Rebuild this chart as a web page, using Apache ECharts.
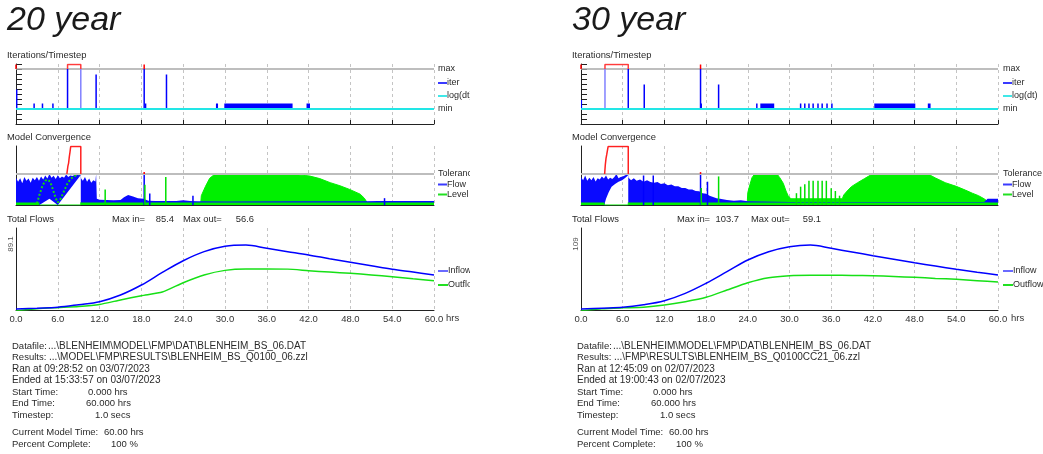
<!DOCTYPE html>
<html><head><meta charset="utf-8">
<script src="https://cdn.jsdelivr.net/npm/echarts@6/dist/echarts.min.js"></script>
<style>
html,body{margin:0;padding:0;background:#fff;width:1043px;height:454px;overflow:hidden}
#left{position:absolute;left:0;top:0;width:470px;height:454px}
#right{position:absolute;left:565px;top:0;width:478px;height:454px}
</style></head><body>
<div id="left"></div><div id="right"></div>
<script>
const FONT = '"Liberation Sans", Arial, sans-serif';

// ---------------- Total flows (hours / values) ----------------
const HOURS = [0,3,6,9,12,15,18,21,24,27,30,33,36,39,42,45,48,51,54,57,60];
const inflow20  = [8.6,9.5,10.7,13.8,17.4,25.4,37.4,52.5,66.6,77.5,84.0,85.4,81.5,77.5,73.5,69.0,64.7,60.5,56.3,53.0,49.5];
const outflow20 = [6.6,8.8,10.2,11.5,14.0,19.5,24.6,29.0,40.2,49.5,55.0,56.6,56.6,56.5,54.6,53.0,51.5,49.5,47.4,45.0,42.6];
const inflow30  = [9.6,10.8,12.0,15.8,21.8,32.6,47.4,64.4,81.6,93.8,101.2,103.7,98.8,93.4,88.0,82.8,77.6,72.7,67.9,63.6,59.6];
const outflow30 = [7.1,10.0,11.3,12.3,15.4,20.3,26.8,37.5,48.2,55.6,58.5,59.1,59.1,59.0,58.5,57.3,56.1,54.6,53.2,51.3,49.3];
const flowAxis20 = [7.4, 105.9];
const flowAxis30 = [8.1, 128.7];
const maxIn20 = '85.4', maxOut20 = '56.6', axisTop20 = '89.1';
const maxIn30 = '103.7', maxOut30 = '59.1', axisTop30 = '109';

// ---------------- Iterations / timestep ----------------
const ITER_MIN = 0, ITER_MAX = 8, ITER_OFF = 8.9;
const iterBars20 = [[0.1,3.9],[2.6,1.1],[3.8,1.1],[5.3,1.1],[7.4,8],[11.5,6.9],[18.4,8],[18.6,1.1],[21.6,6.9]];
const iterBarsLight20 = [[9.3,8]];
const iterBlocks20 = [[28.7,29.0,1.1],[29.9,39.7,1.1],[41.7,42.2,1.1]];
const overMaxBox20 = [7.4, 9.3];
const overMaxTicks20 = [0, 18.4];

const iterBars30 = [[0.05,1.8],[6.8,8],[9.1,4.9],[17.2,8],[17.3,1.1],[19.8,4.9],[25.3,1.1],[31.6,1.1],[32.2,1.1],[32.8,1.1],[33.4,1.1],[34.1,1.1],[34.7,1.1],[35.4,1.1],[36.1,1.1]];
const iterBarsLight30 = [[3.45,8]];
const iterBlocks30 = [[25.8,27.8,1.1],[42.2,48.1,1.1],[49.9,50.3,1.1]];
const overMaxBox30 = [3.45, 6.8];
const overMaxTicks30 = [0, 17.2];

// ---------------- Model convergence (1 = tolerance) ----------------
const TOL = 1, CONV_TOP = 1.9;
const flowTop20 = [[0,0.88],[0.3,0.75],[0.6,0.86],[0.9,0.7],[1.2,0.9],[1.5,0.78],[1.8,0.85],[2.1,0.72],[2.4,0.88],[2.7,0.8],[3.0,0.9],[3.3,0.78],[3.6,0.92],[3.9,0.82],[4.2,0.95],[4.5,0.85],[4.8,1.0],[5.1,0.88],[5.4,0.94],[5.7,0.84],[6.0,0.96],[6.3,0.86],[6.6,0.92],[6.9,0.88],[7.2,0.98],[7.5,0.9],[7.8,0.95],[8.1,0.93],[8.4,0.97],[8.7,0.96],[9.0,0.99],[9.3,1.0],[9.35,0.85],[9.6,0.78],[9.9,0.9],[10.2,0.75],[10.5,0.85],[10.8,0.72],[11.1,0.8],[11.4,0.76],[11.5,1.0],[11.6,0.2],[12,0.17],[13,0.16],[14,0.15],[15,0.16],[15.5,0.25],[16.1,0.32],[16.8,0.27],[17.5,0.22],[18.3,0.2],[19,0.14],[20,0.13],[23,0.13],[24,0.15],[25,0.13],[26,0.12],[30,0.11],[40,0.12],[50,0.12],[52,0.13],[60,0.13]];
const flowLow20 = [[0,0.08],[3.35,0.08],[3.35,0.0],[4.8,0.2],[6.0,0.0],[9.3,0.97],[9.3,0.08],[60,0.08]];
const levelBase20 = [[0,0.08],[3.35,0.08],[3.35,0],[9.3,0],[9.3,0.08],[60,0.08]];
const levelArea20 = [[26.5,0],[26.6,0.3],[27.2,0.6],[27.8,0.86],[28.3,0.95],[28.8,1.0],[39.3,1.0],[39.4,0.96],[40.5,0.97],[41.5,0.95],[42.2,0.93],[43.6,0.85],[45.1,0.72],[46.5,0.62],[47.9,0.5],[49.4,0.35],[50.0,0.22],[50.4,0.08],[50.6,0]];
const levelWave20 = [[3.0,0.05],[3.4,0.35],[3.8,0.62],[4.2,0.78],[4.5,0.82],[4.9,0.75],[5.3,0.5],[5.7,0.22],[6.0,0.08],[6.4,0.2],[6.9,0.45],[7.4,0.7],[7.9,0.85],[8.4,0.93],[8.9,0.98],[9.3,1.0]];
const levelSpikes20 = [[12.8,0.5],[18.5,0.65],[21.5,0.9]];
const flowSpikes20 = [[18.4,1.0],[19.2,0.37],[25.4,0.3],[52.9,0.22]];
const overTol20 = [[7.3,1.0],[7.45,1.25],[7.55,1.35],[7.65,1.55],[7.75,1.7],[7.85,1.88],[9.3,1.88],[9.3,1.0]];
const overTolMarks20 = [18.4];

const flowTop30 = [[0,0.9],[0.3,0.8],[0.6,0.95],[0.9,0.78],[1.2,0.88],[1.5,0.8],[1.8,0.9],[2.1,0.76],[2.4,0.86],[2.7,0.82],[3.0,0.92],[3.3,0.85],[3.6,0.95],[3.9,0.82],[4.2,0.88],[4.5,0.84],[4.8,0.9],[5.1,1.0],[5.4,0.86],[5.7,0.9],[6.0,0.92],[6.3,0.95],[6.6,0.98],[6.8,1.0],[6.85,0.88],[7.2,0.8],[7.6,0.86],[8.0,0.78],[8.5,0.82],[9.0,0.75],[9.5,0.8],[10.0,0.74],[10.5,0.72],[11,0.74],[11.5,0.68],[12,0.7],[12.5,0.64],[13,0.66],[13.5,0.6],[14,0.6],[14.5,0.55],[15,0.55],[15.5,0.5],[16,0.5],[16.5,0.45],[17,0.44],[17.5,0.38],[18,0.36],[18.5,0.3],[19,0.26],[19.5,0.22],[20,0.2],[21,0.16],[22,0.14],[23,0.15],[24,0.12],[30,0.1],[40,0.1],[50,0.1],[58,0.1],[58.5,0.2],[60,0.2]];
const flowLow30 = [[0,0.08],[3.35,0.08],[3.35,0],[3.6,0.2],[4.0,0.42],[4.4,0.59],[4.9,0.68],[5.4,0.75],[5.9,0.8],[6.3,0.86],[6.6,0.92],[6.8,0.97],[6.8,0.08],[60,0.08]];
const levelBase30 = [[0,0.08],[3.35,0.08],[3.35,0],[6.8,0],[6.8,0.08],[60,0.08]];
const levelArea30 = [[23.9,0],[24.0,0.4],[24.3,0.65],[24.6,0.88],[25.0,1.0],[28.2,1.0],[28.6,0.88],[29.1,0.7],[29.5,0.45],[29.8,0.3],[30.2,0.2],[37.6,0.2],[37.8,0.32],[38.3,0.45],[38.9,0.59],[39.8,0.72],[40.8,0.85],[41.4,0.93],[42,1.0],[49.9,1.0],[51,0.87],[52.4,0.72],[54,0.6],[55.3,0.48],[56.3,0.38],[57.2,0.3],[58,0.2],[58.6,0.1],[59,0]];
const levelWave30 = [];
const levelSpikes30 = [[17.3,0.55],[19.8,0.92],[31.0,0.38],[31.6,0.59],[32.2,0.67],[32.8,0.78],[33.4,0.78],[34.1,0.78],[34.7,0.78],[35.3,0.78],[36.0,0.54],[36.6,0.45],[37.2,0.3]];
const flowSpikes30 = [[9.0,0.95],[10.4,0.95],[17.2,1.0],[18.2,0.75]];
const overTol30 = [[3.4,1.0],[3.5,1.3],[3.6,1.5],[3.7,1.62],[3.8,1.75],[3.9,1.88],[6.8,1.88],[6.8,1.0]];
const overTolMarks30 = [17.2];

// ---------------- Run info text ----------------
const info20 = {
  title: '20 year',
  datafile: '...\\BLENHEIM\\MODEL\\FMP\\DAT\\BLENHEIM_BS_06.DAT',
  results: '...\\MODEL\\FMP\\RESULTS\\BLENHEIM_BS_Q0100_06.zzl',
  ran: 'Ran at 09:28:52 on 03/07/2023',
  ended: 'Ended at 15:33:57 on 03/07/2023'
};
const info30 = {
  title: '30 year',
  datafile: '...\\BLENHEIM\\MODEL\\FMP\\DAT\\BLENHEIM_BS_06.DAT',
  results: '...\\FMP\\RESULTS\\BLENHEIM_BS_Q0100CC21_06.zzl',
  ran: 'Ran at 12:45:09 on 02/07/2023',
  ended: 'Ended at 19:00:43 on 02/07/2023'
};
const runRows = [['Start Time:', '0.000 hrs'], ['End Time:', '60.000 hrs'], ['Timestep:', '1.0 secs']];
const statusRows = [['Current Model Time:', '60.00 hrs'], ['Percent Complete:', '100 %']];

// ---------------- builders ----------------
function txt(x, y, s, opt) {
  opt = opt || {};
  return {type:'text', x:x, y:y, rotation: opt.rot || 0, silent:true, z:100,
    style:{text:s, font: opt.font || ('9px ' + FONT), fill: opt.fill || '#2a2a2a',
      textAlign: opt.align || 'left', align: opt.align || 'left',
      textVerticalAlign:'middle', verticalAlign:'middle'}};
}
function seg(x1, y1, x2, y2, color, w) {
  return {type:'line', silent:true, z:100, shape:{x1:x1,y1:y1,x2:x2,y2:y2}, style:{stroke:color, lineWidth:w||2}};
}
function vbars(ax, data, color, w, base, z) {
  return {type:'custom', xAxisIndex:ax, yAxisIndex:ax, z:z, silent:true, clip:true, data:data,
    renderItem:function(p, api){
      const t = api.value(0), v = api.value(1);
      const a = api.coord([t, v]), b = api.coord([t, base]);
      return {type:'rect', shape:{x:a[0]-w/2, y:Math.min(a[1],b[1]), width:w, height:Math.abs(b[1]-a[1])}, style:{fill:color}};
    }};
}
function vticks(ax, ts, from, to, color, w, z) {
  return {type:'custom', xAxisIndex:ax, yAxisIndex:ax, z:z, silent:true, data:ts.map(t=>[t, to]),
    renderItem:function(p, api){
      const t = api.value(0);
      const a = api.coord([t, from]), b = api.coord([t, to]);
      return {type:'line', shape:{x1:a[0],y1:a[1],x2:b[0],y2:b[1]}, style:{stroke:color, lineWidth:w}};
    }};
}
function blocks(ax, data, color, z) {
  return {type:'custom', xAxisIndex:ax, yAxisIndex:ax, z:z, silent:true, data:data,
    renderItem:function(p, api){
      const a = api.coord([api.value(0), api.value(2)]), b = api.coord([api.value(1), ITER_MIN]);
      return {type:'rect', shape:{x:a[0], y:a[1], width:b[0]-a[0], height:b[1]-a[1]}, style:{fill:color}};
    }};
}
function band(ax, upper, lower, color, z) {
  return {type:'custom', xAxisIndex:ax, yAxisIndex:ax, z:z, silent:true, clip:true, data:[[0,0]],
    renderItem:function(p, api){
      const pts = upper.map(q=>api.coord(q)).concat(lower.slice().reverse().map(q=>api.coord(q)));
      return {type:'polygon', shape:{points:pts}, style:{fill:color}};
    }};
}
function line(ax, data, color, w, opt) {
  opt = opt || {};
  const s = {type:'line', xAxisIndex:ax, yAxisIndex:ax, data:data, showSymbol:false, symbol:'none', silent:true,
    z: opt.z || 2, smooth: opt.smooth || false, clip:true,
    lineStyle:{color:color, width:w, type: opt.type || 'solid'}};
  if (opt.area) s.areaStyle = {color: opt.area, opacity:1};
  return s;
}
function zipHours(vals) { return HOURS.map((h,i)=>[h, vals[i]]); }

function buildOption(P) {
  const gw = P.gw;
  const split = {show:true, lineStyle:{type:[3,3], color:'#c4c4c4', width:1}};
  const grid = [
    {left:16, top:64, width:gw, height:60},
    {left:16, top:146, width:gw, height:59},
    {left:16, top:228, width:gw, height:82}
  ];
  const xAxis = [0,1,2].map(i=>({
    type:'value', gridIndex:i, min:0, max:60, interval:6,
    axisLine:{show:true, onZero:false, lineStyle:{color:'#222', width:1}},
    axisTick:{show:i===0, inside:true, length:4, lineStyle:{color:'#222'}},
    axisLabel:{show:i===2, fontSize:9.5, color:'#333', fontFamily:FONT, margin:4,
      formatter:function(v){return v.toFixed(1);}},
    splitLine:split
  }));
  const yAxis = [
    {type:'value', gridIndex:0, min:-3, max:9, interval:1,
      axisLine:{show:true, onZero:false, lineStyle:{color:'#222'}},
      axisTick:{show:true, inside:true, length:6, lineStyle:{color:'#222'}},
      axisLabel:{show:false}, splitLine:{show:false}},
    {type:'value', gridIndex:1, min:0, max:CONV_TOP,
      axisLine:{show:true, onZero:false, lineStyle:{color:'#222'}},
      axisTick:{show:false}, axisLabel:{show:false}, splitLine:{show:false}},
    {type:'value', gridIndex:2, min:P.flowAxis[0], max:P.flowAxis[1],
      axisLine:{show:true, onZero:false, lineStyle:{color:'#222'}},
      axisTick:{show:false}, axisLabel:{show:false}, splitLine:{show:false}}
  ];
  const series = [
    // iterations
    line(0, [[0,ITER_MAX],[60,ITER_MAX]], '#a9a9a9', 1.5, {z:1}),
    vbars(0, P.iterBars, '#0000ff', 1.5, ITER_MIN, 3),
    vbars(0, P.iterBarsLight, '#8080ff', 1.5, ITER_MIN, 3),
    blocks(0, P.iterBlocks, '#0000ff', 3),
    line(0, [[0,ITER_MIN],[60,ITER_MIN]], '#22e6e6', 2, {z:4}),
    line(0, [[P.overMaxBox[0],ITER_MAX],[P.overMaxBox[0],ITER_OFF],[P.overMaxBox[1],ITER_OFF],[P.overMaxBox[1],ITER_MAX]], '#ff3b3b', 1.5, {z:5}),
    vticks(0, P.overMaxTicks, ITER_MAX, ITER_OFF, '#ff0000', 1.5, 5),
    // convergence
    line(1, P.levelBase, '#00e800', 1, {area:'#00ee00', z:1}),
    line(1, P.levelArea, '#00f000', 1, {area:'#00f000', z:2}),
    band(1, P.flowTop, P.flowLow, '#0a0aff', 3),
    vbars(1, P.flowSpikes, '#0000ff', 1.5, 0, 4),
    line(1, P.levelWave, '#12d812', 2, {type:[2,2], z:5}),
    vbars(1, P.levelSpikes, '#00e000', 1.5, 0, 5),
    line(1, [[0,TOL],[60,TOL]], '#bdbdbd', 2, {z:6}),
    line(1, P.overTol, '#ff2020', 1.5, {z:7}),
    vticks(1, P.overTolMarks, TOL, TOL + 0.06, '#ff0000', 1.5, 7),
    // total flows
    line(2, zipHours(P.inflow), '#0000ff', 1.5, {smooth:0.35, z:3}),
    line(2, zipHours(P.outflow), '#16e016', 1.5, {smooth:0.2, z:2})
  ];
  const I = P.info;
  const LBL = '9.5px ' + FONT, PATH = '10px ' + FONT, VAL = '9.5px ' + FONT;
  const g = [
    txt(7, 21, I.title, {font:'italic 34px ' + FONT, fill:'#1a1a1a'}),
    txt(7, 55, 'Iterations/Timestep', {font:'9.4px ' + FONT}),
    txt(7, 137, 'Model Convergence', {font:'9.4px ' + FONT}),
    txt(7, 219, 'Total Flows', {font:'9.4px ' + FONT}),
    txt(112, 219, 'Max in=', {font:'9.4px ' + FONT}),
    txt(P.maxInRight, 219, P.maxIn, {align:'right', font:'9.4px ' + FONT}),
    txt(P.maxOutLeft, 219, 'Max out=', {font:'9.4px ' + FONT}),
    txt(P.maxOutRight, 219, P.maxOut, {align:'right', font:'9.4px ' + FONT}),
    txt(11, 244, P.axisTop, {rot:Math.PI/2, align:'center', font:'8px ' + FONT, fill:'#555'}),
    txt(446, 318, 'hrs', {fill:'#333', font:'9.5px ' + FONT}),
    // legends
    txt(438, 69, 'max'),
    seg(438, 83, 447, 83, '#3a3aff', 2), txt(447, 83, 'iter'),
    seg(438, 96, 447, 96, '#40e8e8', 2), txt(447, 96, 'log(dt)'),
    txt(438, 109, 'min'),
    txt(438, 174, 'Tolerance'),
    seg(438, 184.5, 447, 184.5, '#3a3aff', 2), txt(447, 184.5, 'Flow'),
    seg(438, 194.5, 447, 194.5, '#22e022', 2), txt(447, 194.5, 'Level'),
    seg(438, 271, 448, 271, '#6a6aff', 2), txt(448, 271, 'Inflow'),
    seg(438, 285, 448, 285, '#22e022', 2), txt(448, 285, 'Outflow'),
    // run info
    txt(12, 346, 'Datafile:', {font:LBL}), txt(48, 346, I.datafile, {font:PATH}),
    txt(12, 357.5, 'Results:', {font:LBL}), txt(49, 357.5, I.results, {font:PATH}),
    txt(12, 369, I.ran, {font:PATH}),
    txt(12, 380.5, I.ended, {font:PATH})
  ];
  const rowY = [392, 403.5, 415];
  const rowX = [88, 86, 95];
  runRows.forEach((r,i)=>{ g.push(txt(12, rowY[i], r[0], {font:LBL})); g.push(txt(rowX[i], rowY[i], r[1], {font:VAL})); });
  const stY = [432.5, 444];
  const stX = [104, 111];
  statusRows.forEach((r,i)=>{ g.push(txt(12, stY[i], r[0], {font:LBL})); g.push(txt(stX[i], stY[i], r[1], {font:VAL})); });
  return {animation:false, backgroundColor:'#fff', grid:grid, xAxis:xAxis, yAxis:yAxis, series:series, graphic:{elements:g}};
}

const left = echarts.init(document.getElementById('left'), null, {renderer:'canvas'});
left.setOption(buildOption({
  gw:418, info:info20, inflow:inflow20, outflow:outflow20, flowAxis:flowAxis20,
  maxIn:maxIn20, maxOut:maxOut20, axisTop:axisTop20, maxInRight:174, maxOutLeft:183, maxOutRight:254,
  iterBars:iterBars20, iterBarsLight:iterBarsLight20, iterBlocks:iterBlocks20, overMaxBox:overMaxBox20, overMaxTicks:overMaxTicks20,
  flowTop:flowTop20, flowLow:flowLow20, levelBase:levelBase20, levelArea:levelArea20, levelWave:levelWave20,
  levelSpikes:levelSpikes20, flowSpikes:flowSpikes20, overTol:overTol20, overTolMarks:overTolMarks20
}));
const right = echarts.init(document.getElementById('right'), null, {renderer:'canvas'});
right.setOption(buildOption({
  gw:417, info:info30, inflow:inflow30, outflow:outflow30, flowAxis:flowAxis30,
  maxIn:maxIn30, maxOut:maxOut30, axisTop:axisTop30, maxInRight:174, maxOutLeft:186, maxOutRight:256,
  iterBars:iterBars30, iterBarsLight:iterBarsLight30, iterBlocks:iterBlocks30, overMaxBox:overMaxBox30, overMaxTicks:overMaxTicks30,
  flowTop:flowTop30, flowLow:flowLow30, levelBase:levelBase30, levelArea:levelArea30, levelWave:levelWave30,
  levelSpikes:levelSpikes30, flowSpikes:flowSpikes30, overTol:overTol30, overTolMarks:overTolMarks30
}));
</script></body></html>
